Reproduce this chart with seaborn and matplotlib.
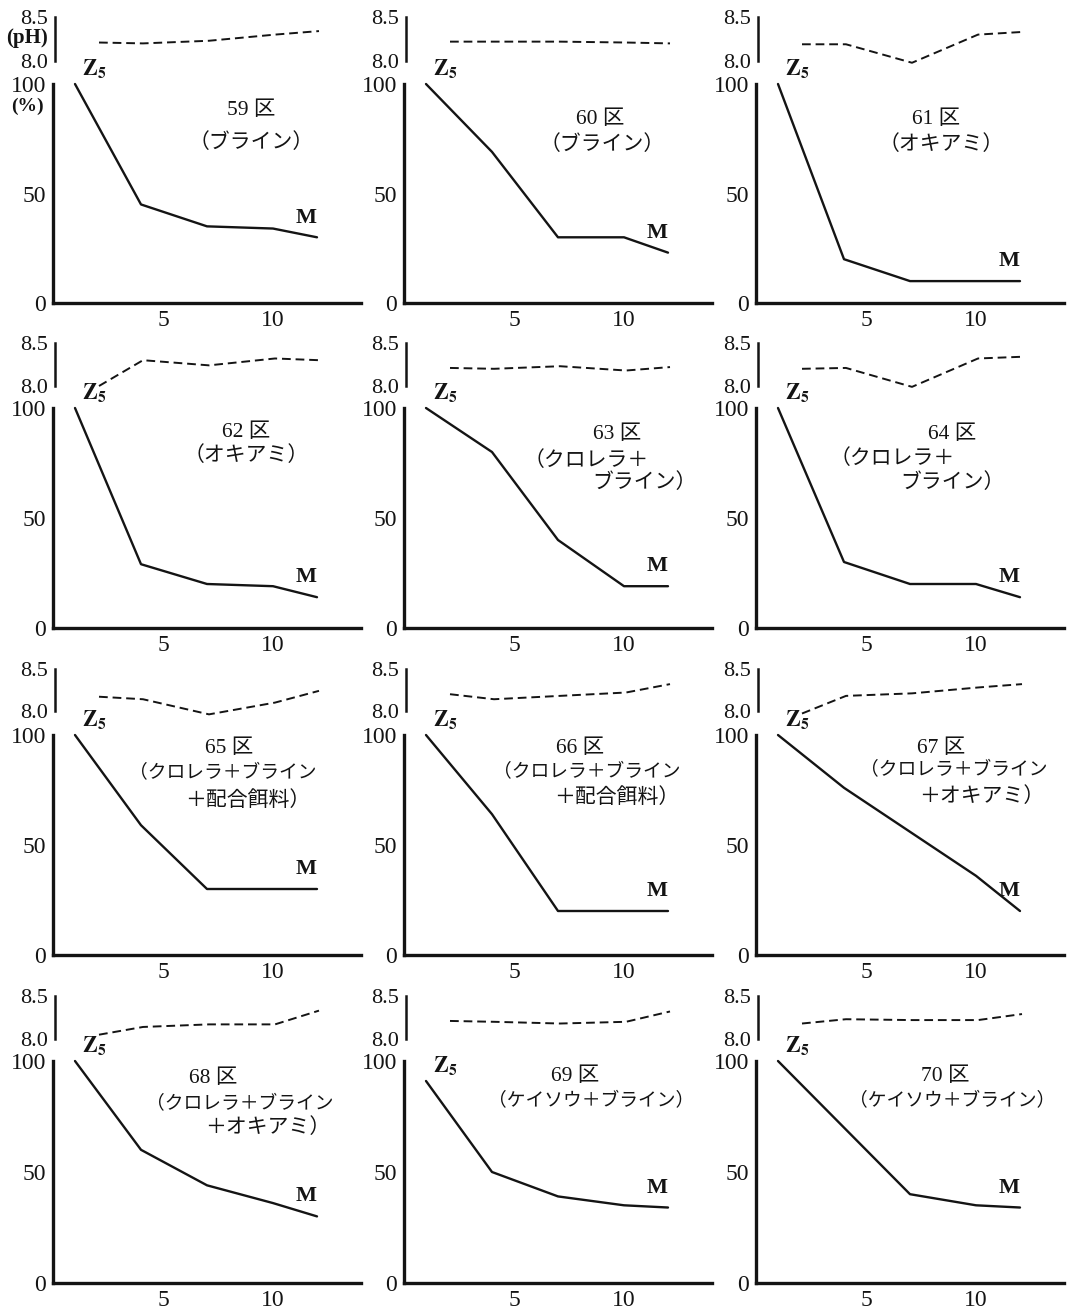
import numpy as np
import pandas as pd
import matplotlib
matplotlib.use("Agg")
import matplotlib.pyplot as plt
import seaborn as sns

# ---------------- data ----------------
plot_ids = [59, 60, 61, 62, 63, 64, 65, 66, 67, 68, 69, 70]
days_surv = [1, 4, 7, 10, 12]
days_ph = [2, 4, 7, 10, 12]

surv_59 = [100, 45, 35, 34, 30]
surv_60 = [100, 69, 30, 30, 23]
surv_61 = [100, 20, 10, 10, 10]
surv_62 = [100, 29, 20, 19, 14]
surv_63 = [100, 80, 40, 19, 19]
surv_64 = [100, 30, 20, 20, 14]
surv_65 = [100, 59, 30, 30, 30]
surv_66 = [100, 64, 20, 20, 20]
surv_67 = [100, 76, 56, 36, 20]
surv_68 = [100, 60, 44, 36, 30]
surv_69 = [91, 50, 39, 35, 34]
surv_70 = [100, 70, 40, 35, 34]

ph_59 = [8.21, 8.20, 8.23, 8.30, 8.34]
ph_60 = [8.22, 8.22, 8.22, 8.21, 8.20]
ph_61 = [8.19, 8.19, 7.98, 8.30, 8.33]
ph_62 = [8.00, 8.30, 8.24, 8.32, 8.30]
ph_63 = [8.21, 8.20, 8.23, 8.18, 8.22]
ph_64 = [8.20, 8.21, 7.99, 8.32, 8.34]
ph_65 = [8.17, 8.14, 7.96, 8.10, 8.24]
ph_66 = [8.20, 8.14, 8.18, 8.22, 8.32]
ph_67 = [7.97, 8.18, 8.21, 8.28, 8.32]
ph_68 = [8.05, 8.14, 8.17, 8.17, 8.33]
ph_69 = [8.21, 8.20, 8.18, 8.20, 8.32]
ph_70 = [8.18, 8.23, 8.22, 8.22, 8.29]

surv_all = [surv_59, surv_60, surv_61, surv_62, surv_63, surv_64,
            surv_65, surv_66, surv_67, surv_68, surv_69, surv_70]
ph_all = [ph_59, ph_60, ph_61, ph_62, ph_63, ph_64,
          ph_65, ph_66, ph_67, ph_68, ph_69, ph_70]

feed_labels = [
    ["（ブライン）"],
    ["（ブライン）"],
    ["（オキアミ）"],
    ["（オキアミ）"],
    ["（クロレラ＋", "ブライン）"],
    ["（クロレラ＋", "ブライン）"],
    ["（クロレラ＋ブライン", "＋配合餌料）"],
    ["（クロレラ＋ブライン", "＋配合餌料）"],
    ["（クロレラ＋ブライン", "＋オキアミ）"],
    ["（クロレラ＋ブライン", "＋オキアミ）"],
    ["（ケイソウ＋ブライン）"],
    ["（ケイソウ＋ブライン）"],
]

x_ticks = [5, 10]
y_ticks = [0, 50, 100]
ph_ticks = [8.0, 8.5]
ph_ticklabels = ["8.0", "8.5"]

df_s = pd.DataFrame([(p, d, v) for p, vals in zip(plot_ids, surv_all)
                     for d, v in zip(days_surv, vals)],
                    columns=["plot", "day", "survival"])
df_p = pd.DataFrame([(p, d, v) for p, vals in zip(plot_ids, ph_all)
                     for d, v in zip(days_ph, vals)],
                    columns=["plot", "day", "ph"])

# ---------------- layout (pixels) ----------------
W, H = 1076, 1313
col_left = [53, 404, 756]
unit = 22.0
xmax = 14
ax_w = unit * xmax
row_main = [(84, 303), (408, 628), (735, 955), (1061, 1283)]
row_ph = [(17, 61), (343, 386), (669, 711), (996, 1039)]

# title / label positions in data coords: (x_num, y_num) and per-line (x, y, ha)
title_layout = [
    ((9.0, 88), [(9.0, 73, "center")]),
    ((8.9, 84), [(9.0, 72, "center")]),
    ((8.2, 84), [(8.4, 72, "center")]),
    ((8.8, 89), [(8.8, 78, "center")]),
    ((9.7, 88), [(8.3, 76, "center"), (13.3, 66, "right")]),
    ((8.9, 88), [(6.2, 77, "center"), (11.3, 66, "right")]),
    ((8.0, 94), [(7.7, 82.5, "center"), (11.7, 70, "right")]),
    ((8.0, 94), [(8.3, 83, "center"), (12.5, 71.5, "right")]),
    ((8.4, 94), [(9.0, 84, "center"), (13.1, 72, "right")]),
    ((7.3, 92), [(8.5, 80.5, "center"), (12.6, 70, "right")]),
    ((7.8, 93), [(8.5, 82, "center")]),
    ((8.6, 93), [(8.9, 82, "center")]),
]

sns.set_style("white")
plt.rcParams["font.family"] = ["Liberation Serif", "Noto Sans CJK JP"]
plt.rcParams["mathtext.fontset"] = "stix"

INK = "#141414"
fig = plt.figure(figsize=(W / 100, H / 100), dpi=100)


def px_axes(left, top, bottom, width):
    return fig.add_axes([left / W, 1 - bottom / H, width / W, (bottom - top) / H])


jp_family = ["Liberation Serif", "Noto Sans CJK JP"]

for i, pid in enumerate(plot_ids):
    r, c = divmod(i, 3)
    left = col_left[c]

    # ---- pH axes ----
    axp = px_axes(left + 2, row_ph[r][0], row_ph[r][1], ax_w)
    axp.patch.set_alpha(0)
    sns.lineplot(data=df_p[df_p["plot"] == pid], x="day", y="ph", ax=axp,
                 color=INK, lw=1.4, linestyle=(0, (4.5, 2.5)), clip_on=False)
    axp.set_xlim(0, xmax)
    axp.set_ylim(8.0, 8.5)
    axp.set_xticks([])
    axp.set_yticks(ph_ticks)
    axp.set_yticklabels(ph_ticklabels)
    for s in ["top", "right", "bottom"]:
        axp.spines[s].set_visible(False)
    axp.spines["left"].set_linewidth(1.8)
    axp.spines["left"].set_color(INK)
    axp.tick_params(axis="y", direction="in", length=5, width=1.8,
                    labelsize=16, pad=5, colors=INK)
    axp.set_xlabel("")
    axp.set_ylabel("")

    # ---- survival axes ----
    ax = px_axes(left, row_main[r][0], row_main[r][1], ax_w)
    ax.patch.set_alpha(0)
    sub = df_s[df_s["plot"] == pid]
    sns.lineplot(data=sub, x="day", y="survival", ax=ax,
                 color=INK, lw=1.7, clip_on=False)
    ax.set_xlim(0, xmax)
    ax.set_ylim(0, 100)
    ax.set_xticks(x_ticks)
    ax.set_yticks(y_ticks)
    sns.despine(ax=ax)
    for s in ["left", "bottom"]:
        ax.spines[s].set_linewidth(2.4)
        ax.spines[s].set_color(INK)
    ax.tick_params(direction="in", length=4, width=1.6, labelsize=17,
                   pad=5, colors=INK)
    ax.set_xlabel("")
    ax.set_ylabel("")

    vals = surv_all[i]
    ax.text(1.3, vals[0] + 1.5, r"$\mathbf{Z_5}$", fontsize=16, ha="left",
            va="bottom", color=INK, clip_on=False)
    ax.text(11.5, vals[-1] + 9, "M", fontsize=16, fontweight="bold",
            ha="center", va="center", color=INK, family="Liberation Serif")

    (tx, ty), lines = title_layout[i]
    ax.text(tx, ty, f"{pid} 区", fontsize=15.5, ha="center", va="center",
            color=INK, family=jp_family)
    for (lx, ly, ha), txt in zip(lines, feed_labels[i]):
        fs = 15 if len(txt) <= 6 else 13.5
        ax.text(lx, ly, txt, fontsize=fs, ha=ha, va="center", color=INK,
                family=jp_family)

fig.text(27 / W, 1 - 38 / H, "(pH)", fontsize=15, fontweight="bold",
         ha="center", va="center", color=INK, family="Liberation Serif")
fig.text(27 / W, 1 - 106 / H, "(%)", fontsize=14, fontweight="bold",
         ha="center", va="center", color=INK, family="Liberation Serif")

fig.savefig("out.png", dpi=100, facecolor="white")
